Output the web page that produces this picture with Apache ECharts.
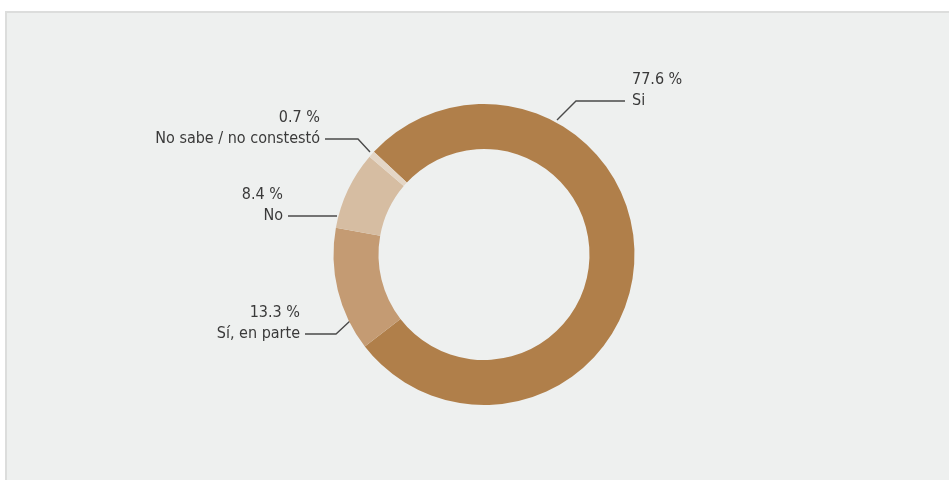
<!DOCTYPE html>
<html>
<head>
<meta charset="utf-8">
<script src="https://cdn.jsdelivr.net/npm/echarts@6/dist/echarts.min.js"></script>
<style>
  html, body { margin: 0; padding: 0; background: #ffffff; width: 949px; height: 480px; overflow: hidden; }
  #panel { position: absolute; left: 5px; top: 11px; width: 960px; height: 480px;
           background: #eef0ef; border-left: 2px solid #dcdddc; border-top: 2px solid #dcdddc; }
  #chart { position: absolute; left: 0; top: 0; width: 949px; height: 480px; }
</style>
</head>
<body>
<div id="panel"></div>
<div id="chart"></div>
<script>
// Data
const categories = ['Si', 'Sí, en parte', 'No', 'No sabe / no constestó'];
const values = [77.6, 13.3, 8.4, 0.7];
const colors = ['#b07f4a', '#c49b73', '#d6bda2', '#e4d6c6'];

// Label placement (annotation layout, not data)
const labelLayouts = [
  { x: 632, y: 90.5, align: 'left',  line: [[557, 120], [576, 101], [625, 101]] },
  { x: 300, y: 323,  align: 'right', line: [[350, 321], [336, 334], [305, 334]] },
  { x: 283, y: 205,  align: 'right', line: [[337, 216], [337, 216], [288, 216]] },
  { x: 320, y: 128.5,align: 'right', line: [[370, 152], [358, 139], [325, 139]] }
];

const chart = echarts.init(document.getElementById('chart'), null, { renderer: 'canvas' });
const data = categories.map((c, i) => ({ name: c, value: values[i], itemStyle: { color: colors[i] } }));

chart.setOption({
  backgroundColor: 'transparent',
  animation: false,
  series: [{
    type: 'pie',
    center: [484, 254.5],
    radius: [105.5, 150.5],
    startAngle: 137,
    clockwise: true,
    avoidLabelOverlap: false,
    itemStyle: { borderWidth: 0 },
    emphasis: { disabled: true },
    label: {
      show: true,
      position: 'outside',
      formatter: '{c} %\n{b}',
      fontFamily: '"DejaVu Sans Condensed", "DejaVu Sans", sans-serif',
      fontSize: 16,
      lineHeight: 21,
      color: '#3a3a3a'
    },
    labelLine: {
      show: true,
      length: 10,
      length2: 10,
      lineStyle: { color: '#4a4a4a', width: 1.4 }
    },
    labelLayout: function (params) {
      const L = labelLayouts[params.dataIndex];
      return {
        x: L.x,
        y: L.y,
        align: L.align,
        verticalAlign: 'middle',
        labelLinePoints: L.line.map(p => p.slice())
      };
    },
    data: data
  }]
});
</script>
</body>
</html>
